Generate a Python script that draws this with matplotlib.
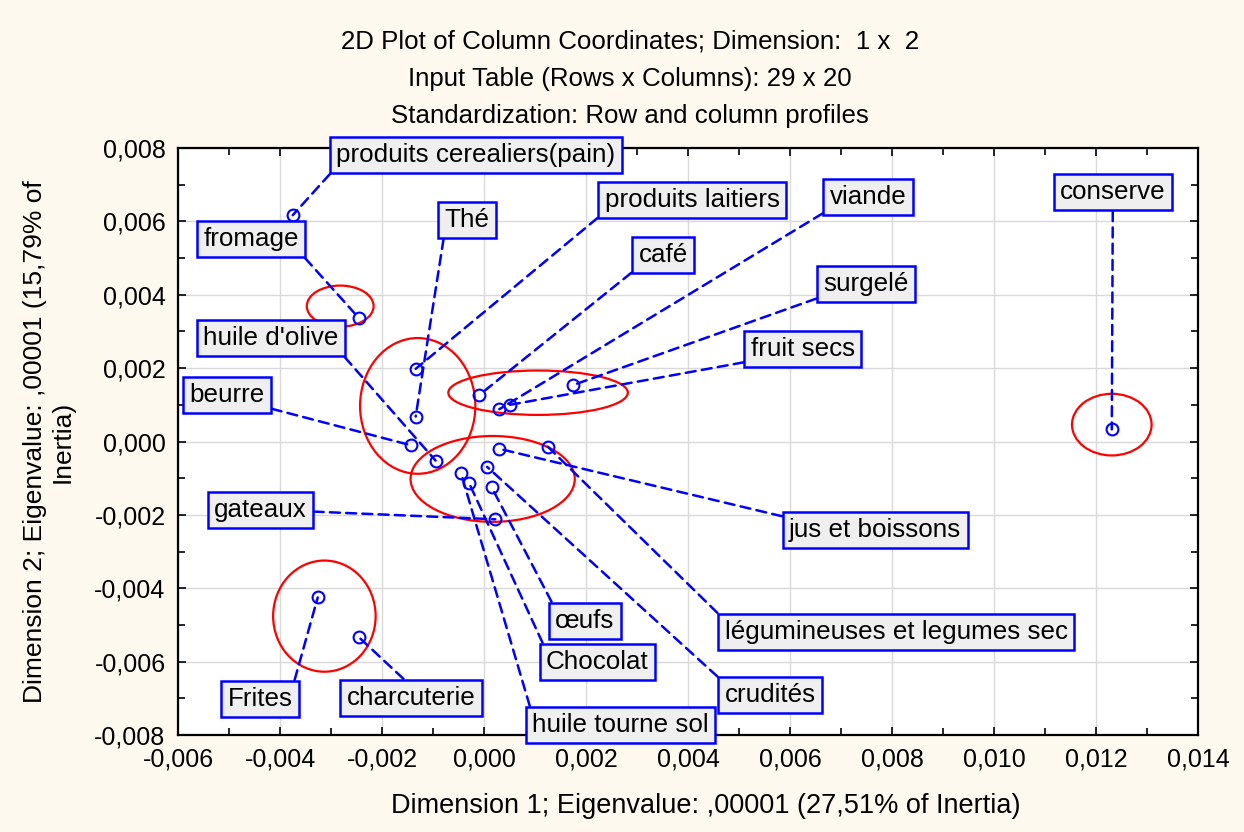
import numpy as np
import matplotlib.pyplot as plt
from matplotlib.patches import Ellipse
from matplotlib.ticker import MultipleLocator, FuncFormatter

plt.rcParams['font.family'] = ['Liberation Sans', 'DejaVu Sans']

# column coordinates (dimension 1, dimension 2)
labels = ["produits cerealiers(pain)", "fromage", "Thé", "produits laitiers", "viande",
          "café", "surgelé", "fruit secs", "conserve", "huile d'olive", "beurre", "gateaux",
          "jus et boissons", "légumineuses et legumes sec", "œufs", "Chocolat", "crudités",
          "huile tourne sol", "Frites", "charcuterie"]
dim1 = [-0.00375, -0.00245, -0.00134, -0.00134, 0.00030,
        -0.00009, 0.00175, 0.00051, 0.01231, -0.00095, -0.00144, 0.00022,
        0.00030, 0.00125, 0.00015, -0.00029, 0.00006,
        -0.00045, -0.00326, -0.00245]
dim2 = [0.00617, 0.00336, 0.00068, 0.00198, 0.00088,
        0.00127, 0.00154, 0.00100, 0.00033, -0.00052, -0.00010, -0.00212,
        -0.00020, -0.00014, -0.00125, -0.00114, -0.00069,
        -0.00087, -0.00425, -0.00534]

# where the label boxes sit (centre, data units) and which corner the leader line leaves from
label_x = [-0.00016, -0.00457, -0.00033, 0.00408, 0.00753,
           0.00351, 0.00749, 0.00625, 0.01233, -0.00418, -0.00504, -0.00439,
           0.00767, 0.00808, 0.00198, 0.00222, 0.00561,
           0.00267, -0.00439, -0.00143]
label_y = [0.00781, 0.00552, 0.00604, 0.00658, 0.00666,
           0.00508, 0.00429, 0.00252, 0.00680, 0.00282, 0.00127, -0.00187,
           -0.00241, -0.00519, -0.00489, -0.00601, -0.00691,
           -0.00773, -0.00702, -0.00699]
rel = [(0, 0), (1, 0), (0, 0), (0, 0), (0, 0),
       (0, 0), (0, 0), (0, 0), (0.5, 0), (1, 0), (1, 0), (1, 0.45),
       (0, 1), (0, 1), (0, 1), (0, 1), (0, 1),
       (0, 1), (1, 1), (0.5, 1)]

# red groupings drawn by hand: centre x, centre y, width, height
groups = [(-0.00282, 0.00369, 0.00131, 0.00112),
          (-0.00130, 0.00097, 0.00226, 0.00370),
          (0.00106, 0.00133, 0.00352, 0.00121),
          (0.00017, -0.00102, 0.00322, 0.00234),
          (-0.00313, -0.00476, 0.00201, 0.00303),
          (0.01231, 0.00046, 0.00156, 0.00168)]

fs = 18

fig = plt.figure(figsize=(12.44, 8.32), dpi=100)
fig.patch.set_facecolor('#fdf9ee')
ax = fig.add_axes([0.1431, 0.1166, 0.8199, 0.7055])
ax.set_facecolor('white')

ax.set_xlim(-0.006, 0.014)
ax.set_ylim(-0.008, 0.008)
ax.xaxis.set_major_locator(MultipleLocator(0.002))
ax.yaxis.set_major_locator(MultipleLocator(0.002))
ax.xaxis.set_minor_locator(MultipleLocator(0.001))
ax.yaxis.set_minor_locator(MultipleLocator(0.001))
comma = FuncFormatter(lambda v, p: ('%.3f' % v).replace('.', ','))
ax.xaxis.set_major_formatter(comma)
ax.yaxis.set_major_formatter(comma)
ax.grid(True, which='major', color='#d9d9d9', linewidth=1)
ax.set_axisbelow(True)
ax.tick_params(which='both', direction='in', top=True, right=True, width=1.2,
               labelsize=fs, pad=9)
ax.tick_params(which='major', length=6)
ax.tick_params(which='minor', length=5)
for s in ax.spines.values():
    s.set_linewidth(1.6)

for (cx, cy, w, h) in groups:
    ax.add_patch(Ellipse((cx, cy), w, h, fill=False, edgecolor='#ff0000', linewidth=1.6, zorder=3))

ax.plot(dim1, dim2, 'o', markersize=8.5, markerfacecolor='none', markeredgecolor='#0000ff',
        markeredgewidth=1.5, zorder=4)

for i, name in enumerate(labels):
    ax.annotate(name, xy=(dim1[i], dim2[i]), xytext=(label_x[i], label_y[i]),
                ha='center', va='center', fontsize=18.7, annotation_clip=False, zorder=5,
                bbox=dict(boxstyle='square,pad=0.24', facecolor='#efefef', edgecolor='#0000ff', linewidth=1.8),
                arrowprops=dict(arrowstyle='-', color='#0000ff', linestyle=(0, (4, 2.5)), linewidth=1.8,
                                relpos=rel[i], shrinkA=0, shrinkB=0))

# titles sit a little right of the figure centre in the original
tx = 630 / 1244
fig.text(tx, 1 - 42 / 832, '2D Plot of Column Coordinates; Dimension:  1 x  2', ha='center', va='center', fontsize=18.6)
fig.text(tx, 1 - 79 / 832, 'Input Table (Rows x Columns): 29 x 20', ha='center', va='center', fontsize=18.6)
fig.text(tx, 1 - 116 / 832, 'Standardization: Row and column profiles', ha='center', va='center', fontsize=18.6)

ax.set_xlabel('Dimension 1; Eigenvalue: ,00001 (27,51% of Inertia)', fontsize=19.5)
ax.xaxis.set_label_coords(0.517, -0.098)
ax.set_ylabel('Dimension 2; Eigenvalue: ,00001 (15,79% of\nInertia)', fontsize=19, labelpad=14)

fig.savefig('out.png', dpi=100, facecolor=fig.get_facecolor())
